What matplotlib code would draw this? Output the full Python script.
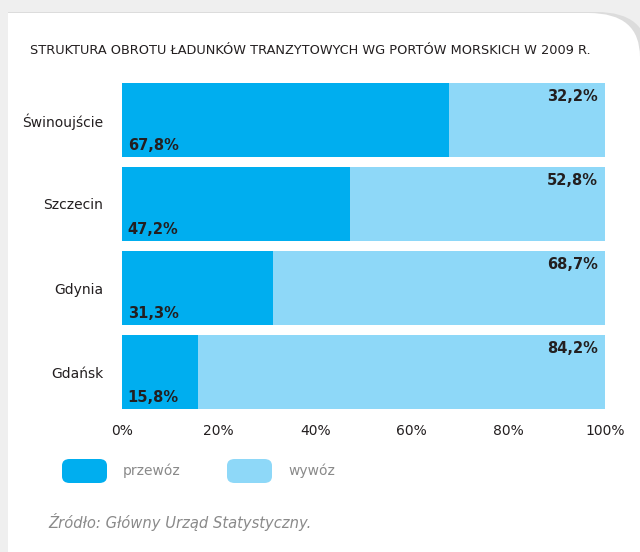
import matplotlib
matplotlib.use("Agg")
import matplotlib.pyplot as plt
from matplotlib.patches import FancyBboxPatch, Rectangle
import matplotlib.ticker as mticker

# ── data ──────────────────────────────────────────────────────────────────────
ports = ["Świnoujście", "Szczecin", "Gdynia", "Gdańsk"]
przewoz = [67.8, 47.2, 31.3, 15.8]
wywoz = [32.2, 52.8, 68.7, 84.2]
przewoz_labels = ["67,8%", "47,2%", "31,3%", "15,8%"]
wywoz_labels = ["32,2%", "52,8%", "68,7%", "84,2%"]
x_ticks = [0, 20, 40, 60, 80, 100]

# ── colours ───────────────────────────────────────────────────────────────────
DARK = "#00AEEF"
LIGHT = "#8ED8F8"
TXT = "#231F20"
GREY = "#8A8A8A"
BG = "#EFEFEF"

W, H = 640, 552
fig = plt.figure(figsize=(W / 100, H / 100), dpi=100)
fig.patch.set_facecolor(BG)

# white card, only the top-right corner rounded (with a soft shadow)
shadow = FancyBboxPatch((-100 / W, -0.2), 748 / W, 1 - 12 / H + 0.2,
                        boxstyle="round,pad=0,rounding_size=0.08",
                        transform=fig.transFigure, facecolor="#DCDCDC",
                        edgecolor="none", zorder=-3)
card = FancyBboxPatch((-100 / W, -0.2), 740 / W, 1 - 13 / H + 0.2,
                      boxstyle="round,pad=0,rounding_size=0.08",
                      transform=fig.transFigure, facecolor="white",
                      edgecolor="none", zorder=-2)
left = Rectangle((0, 0), 8 / W, 1, transform=fig.transFigure,
                 facecolor=BG, edgecolor="none", zorder=-1)
fig.patches.extend([shadow, card, left])

ax = fig.add_axes([122 / W, 1 - 409 / H, (605 - 122) / W, (409 - 83) / H])
ax.set_facecolor("none")

y = list(range(len(ports)))
ax.barh(y, przewoz, height=0.88, color=DARK, lw=0)
ax.barh(y, wywoz, left=przewoz, height=0.88, color=LIGHT, lw=0)

for i in y:
    ax.text(1.2, i + 0.3, przewoz_labels[i], ha="left", va="center",
            fontsize=10.5, fontweight="bold", color=TXT)
    ax.text(98.5, i - 0.28, wywoz_labels[i], ha="right", va="center",
            fontsize=10.5, fontweight="bold", color=TXT)

ax.set_xlim(0, 100)
ax.set_ylim(len(ports) - 0.56, -0.44)
ax.set_yticks(y)
ax.set_yticklabels(ports, fontsize=10, color=TXT)
ax.set_xticks(x_ticks)
ax.xaxis.set_major_formatter(mticker.FuncFormatter(lambda v, _: f"{v:.0f}%"))
ax.tick_params(length=0, labelsize=10, colors=TXT)
ax.tick_params(axis="x", pad=11)
ax.tick_params(axis="y", pad=13.5)
for s in ax.spines.values():
    s.set_visible(False)

fig.text(30 / W, 1 - 50 / H,
         "STRUKTURA OBROTU ŁADUNKÓW TRANZYTOWYCH WG PORTÓW MORSKICH W 2009 R.",
         fontsize=9.3, color=TXT, va="center", ha="left")

# legend
for x0, col, lab in [(62, DARK, "przewóz"), (227, LIGHT, "wywóz")]:
    fig.patches.append(FancyBboxPatch((x0 / W, 1 - 483 / H), 45 / W, 24 / H,
                                      boxstyle="round,pad=0,rounding_size=0.012",
                                      transform=fig.transFigure,
                                      facecolor=col, edgecolor="none"))
    fig.text((x0 + 61) / W, 1 - 471 / H, lab, fontsize=10, color=GREY,
             va="center", ha="left")

fig.text(48 / W, 1 - 522 / H, "Źródło: Główny Urząd Statystyczny.",
         fontsize=10.6, color=GREY, style="italic", va="center", ha="left")

fig.savefig("out.png", dpi=100, facecolor=fig.get_facecolor())
